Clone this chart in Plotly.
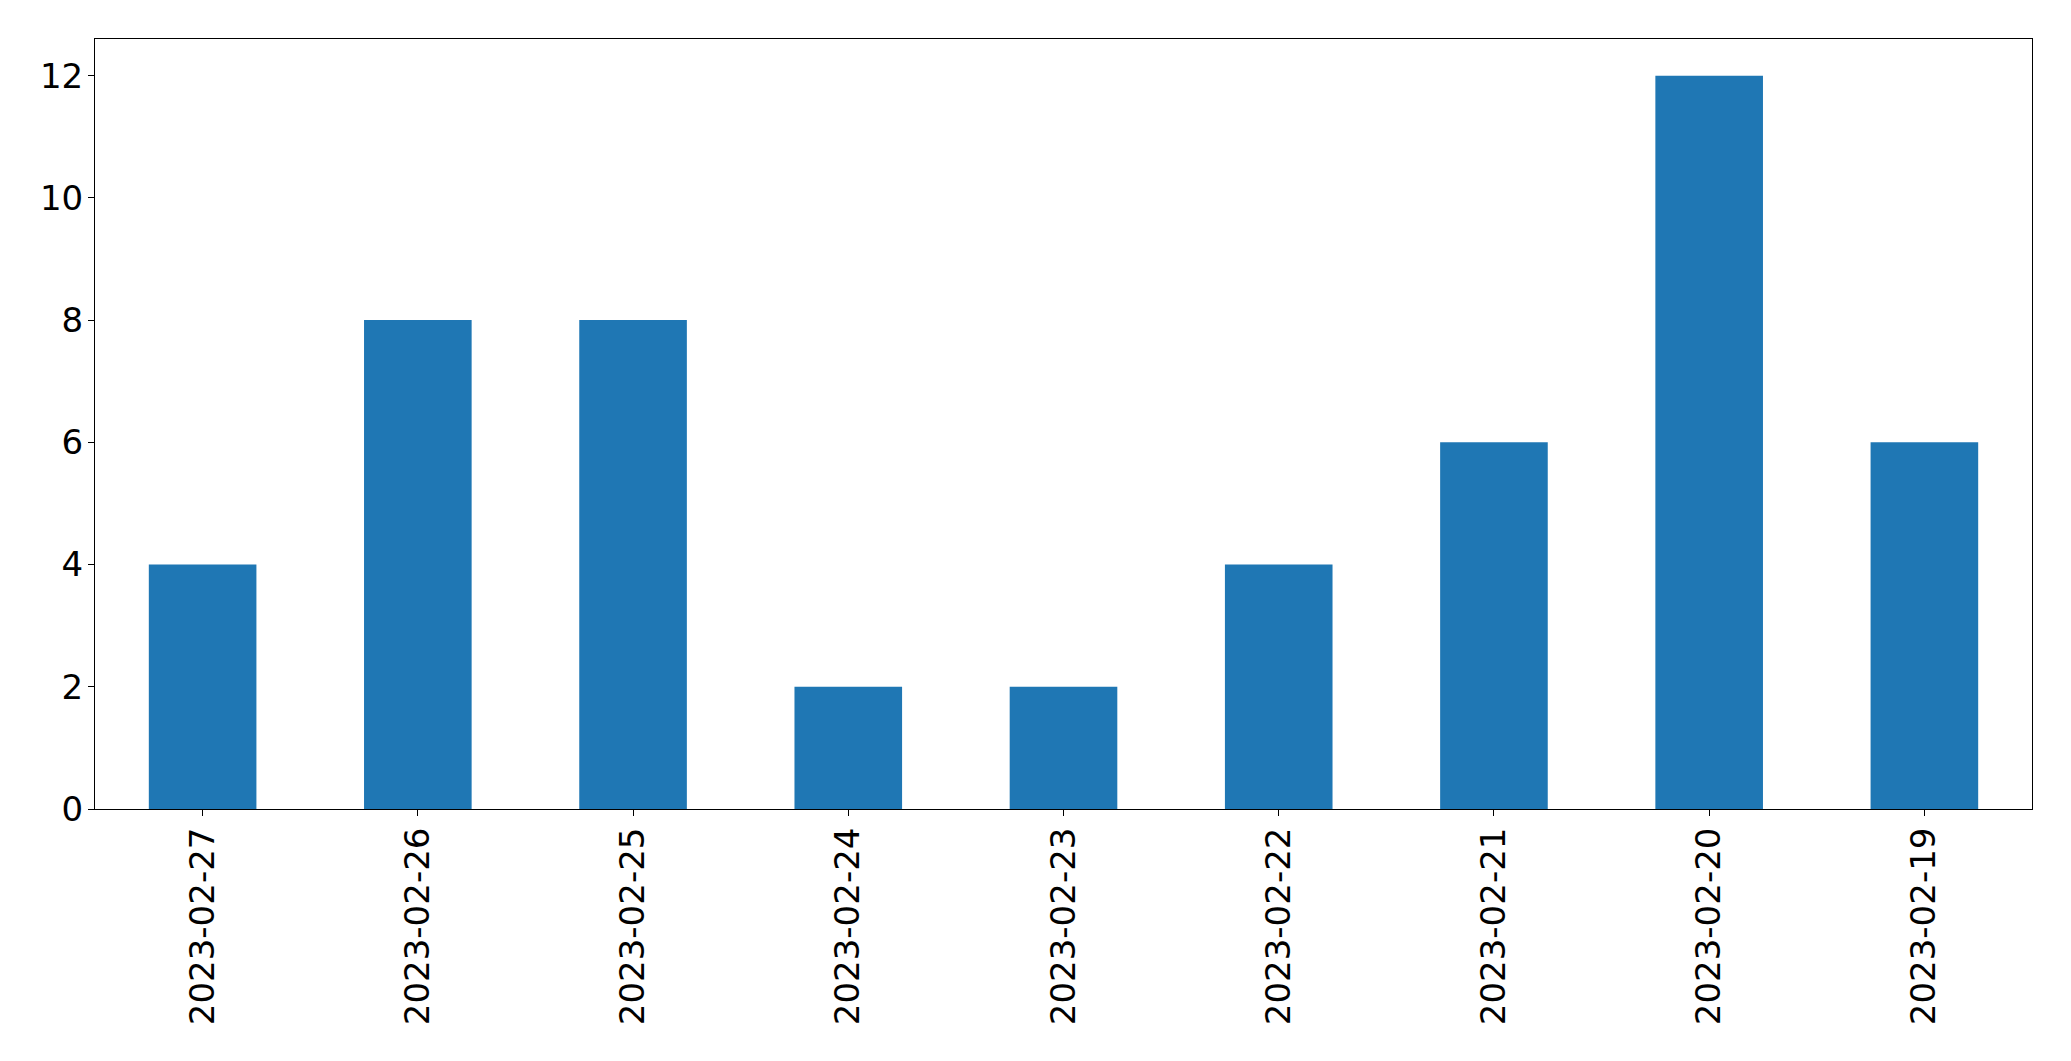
import plotly.graph_objects as go

dates = ["2023-02-27", "2023-02-26", "2023-02-25", "2023-02-24", "2023-02-23",
         "2023-02-22", "2023-02-21", "2023-02-20", "2023-02-19"]
counts = [4, 8, 8, 2, 2, 4, 6, 12, 6]
y_ticks = [0, 2, 4, 6, 8, 10, 12]

fig = go.Figure(go.Bar(x=dates, y=counts, marker_color="#1f77b4", marker_line_width=0))

# page body has an 8px default margin; size the figure so it fits the window exactly
fig.update_layout(
    width=2055, height=1045,
    margin=dict(l=87, r=31, t=31, b=244),
    paper_bgcolor="white", plot_bgcolor="white",
    bargap=0.5, showlegend=False,
    font=dict(family="DejaVu Sans", size=34, color="black"),
)
fig.update_xaxes(
    type="category", range=[-0.5, 8.5], tickangle=-90,
    showline=True, linecolor="black", linewidth=1, mirror=True,
    ticks="outside", ticklen=6, tickcolor="black", tickwidth=1,
    showgrid=False, zeroline=False, ticklabelstandoff=-2,
    tickfont=dict(size=34),
)
fig.update_yaxes(
    range=[0, 12.6], tickvals=y_ticks,
    showline=True, linecolor="black", linewidth=1, mirror=True,
    ticks="outside", ticklen=6, tickcolor="black", tickwidth=1,
    showgrid=False, zeroline=False, ticklabelstandoff=-2,
    tickfont=dict(size=34),
)

fig.write_html("out.html")
